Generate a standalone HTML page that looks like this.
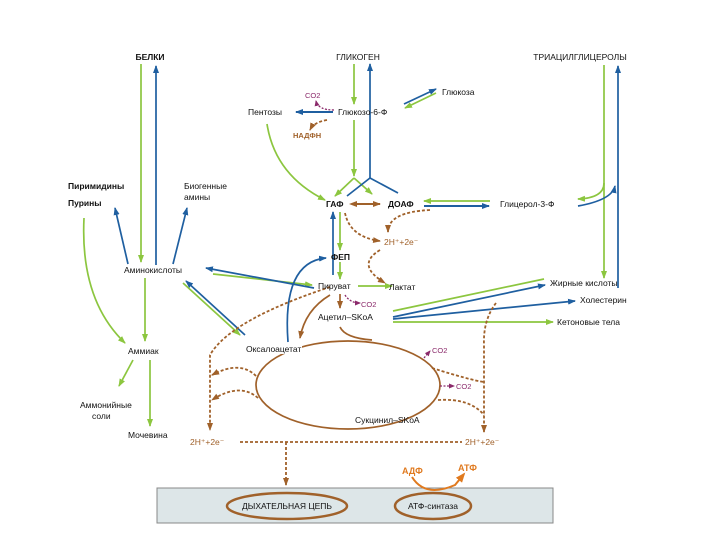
<!DOCTYPE html>
<html><head><meta charset="utf-8"><style>
html,body{margin:0;padding:0;background:#fff}
svg{display:block}
text{font-family:"Liberation Sans",sans-serif;font-size:8.5px;fill:#111}
.b{font-weight:bold}
.br{fill:#a0612a}
.pu{fill:#8b2a6b}
.or{fill:#e07a1f;font-weight:bold;font-size:9px}
</style></head><body>
<svg width="720" height="540" viewBox="0 0 720 540" xmlns="http://www.w3.org/2000/svg">
<defs>
<marker id="ag" markerWidth="8" markerHeight="6" refX="7" refY="3" orient="auto" markerUnits="userSpaceOnUse"><path d="M0,0 L8,3 L0,6 z" fill="#8cc63f"/></marker>
<marker id="ab" markerWidth="8" markerHeight="6" refX="7" refY="3" orient="auto" markerUnits="userSpaceOnUse"><path d="M0,0 L8,3 L0,6 z" fill="#1f5fa0"/></marker>
<marker id="ar" markerWidth="8" markerHeight="6" refX="7" refY="3" orient="auto" markerUnits="userSpaceOnUse"><path d="M0,0 L8,3 L0,6 z" fill="#a0612a"/></marker>
<marker id="ars" markerWidth="8" markerHeight="6" refX="1" refY="3" orient="auto-start-reverse" markerUnits="userSpaceOnUse"><path d="M0,0 L8,3 L0,6 z" fill="#a0612a"/></marker>
<marker id="ap" markerWidth="6" markerHeight="5" refX="5" refY="2.5" orient="auto" markerUnits="userSpaceOnUse"><path d="M0,0 L6,2.5 L0,5 z" fill="#8b2a6b"/></marker>
<marker id="ao" markerWidth="10" markerHeight="8" refX="8" refY="4" orient="auto" markerUnits="userSpaceOnUse"><path d="M0,0 L10,4 L0,8 z" fill="#e07a1f"/></marker>
</defs>

<rect x="157" y="488" width="396" height="35" fill="#dde6e8" stroke="#888" stroke-width="1"/>
<ellipse cx="287" cy="506" rx="60" ry="13" fill="none" stroke="#a0612a" stroke-width="2.5"/>
<ellipse cx="433" cy="506" rx="38" ry="13" fill="none" stroke="#a0612a" stroke-width="2.5"/>
<text x="287" y="509" text-anchor="middle">ДЫХАТЕЛЬНАЯ ЦЕПЬ</text>
<text x="433" y="509" text-anchor="middle">АТФ-синтаза</text>
<text x="402" y="474" class="or">АДФ</text>
<text x="458" y="471" class="or">АТФ</text>
<path d="M412,477 Q425,498 455,485 L464,474" fill="none" stroke="#e07a1f" stroke-width="2" marker-end="url(#ao)"/>

<g fill="none" stroke-width="1.7">
<g stroke="#8cc63f">
<line x1="141" y1="64" x2="141" y2="262" marker-end="url(#ag)"/>
<line x1="354" y1="64" x2="354" y2="104" marker-end="url(#ag)"/>
<line x1="354" y1="120" x2="354" y2="176" marker-end="url(#ag)"/>
<line x1="604" y1="65" x2="604" y2="278" marker-end="url(#ag)"/>
<line x1="436" y1="93" x2="405" y2="108" marker-end="url(#ag)"/>
<path d="M267,124 Q275,175 325,200" marker-end="url(#ag)"/>
<path d="M354,178 L335,196" marker-end="url(#ag)"/>
<path d="M354,178 L372,194" marker-end="url(#ag)"/>
<line x1="490" y1="201" x2="424" y2="201" marker-end="url(#ag)"/>
<path d="M604,183 Q604,198 578,199" marker-end="url(#ag)"/>
<line x1="340" y1="212" x2="340" y2="250" marker-end="url(#ag)"/>
<line x1="340" y1="262" x2="340" y2="279" marker-end="url(#ag)"/>
<line x1="358" y1="286" x2="392" y2="286" marker-end="url(#ag)"/>
<line x1="213" y1="274" x2="312" y2="285" marker-end="url(#ag)"/>
<line x1="183" y1="283" x2="240" y2="335" marker-end="url(#ag)"/>
<line x1="145" y1="278" x2="145" y2="341" marker-end="url(#ag)"/>
<path d="M84,218 Q80,300 125,343" marker-end="url(#ag)"/>
<line x1="133" y1="360" x2="119" y2="386" marker-end="url(#ag)"/>
<line x1="150" y1="360" x2="150" y2="426" marker-end="url(#ag)"/>
<line x1="544" y1="279" x2="393" y2="311"/>
<line x1="393" y1="322" x2="553" y2="322" marker-end="url(#ag)"/>
</g>
<g stroke="#1f5fa0">
<line x1="156" y1="265" x2="156" y2="66" marker-end="url(#ab)"/>
<line x1="370" y1="178" x2="370" y2="64" marker-end="url(#ab)"/>
<line x1="618" y1="288" x2="618" y2="66" marker-end="url(#ab)"/>
<line x1="404" y1="104" x2="436" y2="89" marker-end="url(#ab)"/>
<line x1="333" y1="112" x2="296" y2="112" marker-end="url(#ab)" stroke-width="2"/>
<path d="M347,196 L370,178 L398,193"/>
<line x1="424" y1="206" x2="489" y2="206" marker-end="url(#ab)" stroke-width="2"/>
<path d="M578,206 Q612,200 615,186" marker-end="url(#ab)"/>
<line x1="333" y1="275" x2="333" y2="212" marker-end="url(#ab)"/>
<path d="M288,342 Q282,262 326,258" marker-end="url(#ab)"/>
<line x1="314" y1="288" x2="206" y2="268" marker-end="url(#ab)"/>
<line x1="245" y1="335" x2="186" y2="281" marker-end="url(#ab)"/>
<line x1="128" y1="264" x2="115" y2="208" marker-end="url(#ab)"/>
<line x1="173" y1="264" x2="187" y2="208" marker-end="url(#ab)"/>
<line x1="393" y1="317" x2="545" y2="285" marker-end="url(#ab)"/>
<line x1="393" y1="319" x2="575" y2="301" marker-end="url(#ab)"/>
</g>
<g stroke="#a0612a">
<line x1="356" y1="204" x2="380" y2="204" marker-end="url(#ar)" marker-start="url(#ars)" stroke-width="2"/>
<path d="M340,294 L340,308" marker-end="url(#ar)"/>
<path d="M340,327 Q345,338 372,340"/>
<ellipse cx="348" cy="385" rx="92" ry="44"/>
<path d="M330,295 Q305,310 300,338" marker-end="url(#ar)"/>
</g>
<g stroke="#a0612a" stroke-dasharray="3,2" stroke-width="1.8">
<path d="M345,213 Q350,237 380,241" marker-end="url(#ar)"/>
<path d="M430,210 Q388,212 388,232" marker-end="url(#ar)"/>
<path d="M380,250 Q355,265 385,283" marker-end="url(#ar)"/>
<path d="M330,287 Q230,320 210,355 L210,430" marker-end="url(#ar)"/>
<path d="M256,376 Q240,360 212,375" marker-end="url(#ar)"/>
<path d="M258,398 Q240,382 212,400" marker-end="url(#ar)"/>
<path d="M496,303 Q483,320 484,345 L484,432" marker-end="url(#ar)"/>
<path d="M432,368 Q470,380 484,382"/>
<path d="M438,400 Q470,398 484,415"/>
<line x1="240" y1="442" x2="462" y2="442"/>
<line x1="286" y1="442" x2="286" y2="485" marker-end="url(#ar)"/>
<path d="M327,120 Q314,122 310,130" marker-end="url(#ar)"/>
</g>
<g stroke="#8b2a6b" stroke-dasharray="2,1.5" stroke-width="1.3">
<path d="M334,110 Q318,110 316,101" marker-end="url(#ap)"/>
<path d="M345,295 Q350,303 360,303" marker-end="url(#ap)"/>
<path d="M424,358 L430,351" marker-end="url(#ap)"/>
<path d="M440,386 L454,386" marker-end="url(#ap)"/>
</g>
</g>

<rect x="244" y="344" width="58" height="10" fill="#fff"/>
<text x="150" y="60" text-anchor="middle" class="b">БЕЛКИ</text>
<text x="358" y="60" text-anchor="middle">ГЛИКОГЕН</text>
<text x="580" y="60" text-anchor="middle">ТРИАЦИЛГЛИЦЕРОЛЫ</text>
<text x="442" y="95">Глюкоза</text>
<text x="248" y="115">Пентозы</text>
<text x="338" y="115">Глюкозо-6-Ф</text>
<text x="305" y="98" class="pu" style="font-size:7.5px">CO2</text>
<text x="293" y="138" class="br b" style="font-size:7.5px">НАДФН</text>
<text x="326" y="207" class="b">ГАФ</text>
<text x="388" y="207" class="b">ДОАФ</text>
<text x="500" y="207">Глицерол-3-Ф</text>
<text x="384" y="245" class="br">2H⁺+2e⁻</text>
<text x="331" y="260" class="b">ФЕП</text>
<text x="318" y="289">Пируват</text>
<text x="389" y="290">Лактат</text>
<text x="361" y="307" class="pu" style="font-size:7.5px">CO2</text>
<text x="318" y="320">Ацетил–SKoA</text>
<text x="550" y="286">Жирные кислоты</text>
<text x="580" y="303">Холестерин</text>
<text x="557" y="325">Кетоновые тела</text>
<text x="124" y="273">Аминокислоты</text>
<text x="68" y="189" class="b">Пиримидины</text>
<text x="68" y="206" class="b">Пурины</text>
<text x="184" y="189">Биогенные</text>
<text x="184" y="200">амины</text>
<text x="128" y="354">Аммиак</text>
<text x="80" y="408">Аммонийные</text>
<text x="92" y="419">соли</text>
<text x="128" y="438">Мочевина</text>
<text x="246" y="352">Оксалоацетат</text>
<text x="355" y="423">Сукцинил–SKoA</text>
<text x="432" y="353" class="pu" style="font-size:7.5px">CO2</text>
<text x="456" y="389" class="pu" style="font-size:7.5px">CO2</text>
<text x="190" y="445" class="br">2H⁺+2e⁻</text>
<text x="465" y="445" class="br">2H⁺+2e⁻</text>
</svg>
</body></html>
